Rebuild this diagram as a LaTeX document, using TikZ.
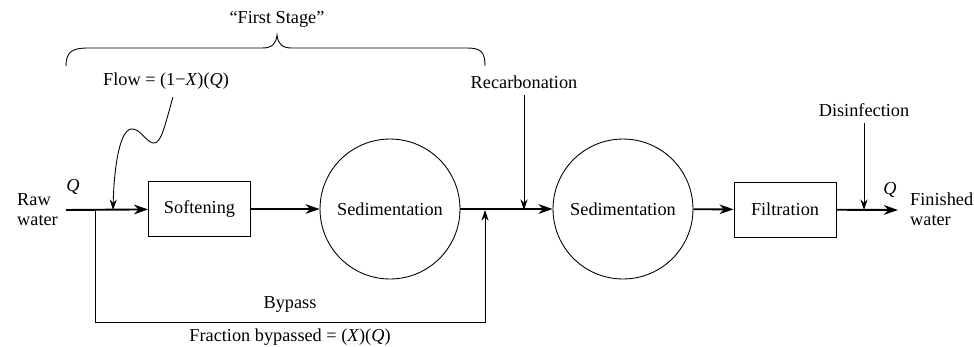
\documentclass[tikz,border=0pt]{standalone}
\usepackage{fontspec}
\setmainfont{Liberation Serif}
\usetikzlibrary{arrows.meta}

\begin{document}
\begin{tikzpicture}[x=0.02cm, y=-0.02cm, font=\fontsize{10.4}{11.4}\selectfont,
	unit/.style={draw, line width=0.5pt, minimum width=2.04cm, minimum height=1.1cm, inner sep=0pt},
	basin/.style={draw, line width=0.5pt, circle, minimum size=2.8cm, inner sep=0pt},
	flow/.style={line width=1.1pt, -{Stealth[length=8pt, width=5.5pt, inset=2.5pt]}},
	feed/.style={line width=0.5pt, -{Stealth[length=6pt, width=4pt, inset=2pt]}}]
	\useasboundingbox (0,0) rectangle (974,346);
	% process units
	\node[unit] (soft) at (199.5,209) {Softening};
	\node[basin] (sedA) at (390,209) {Sedimentation};
	\node[basin] (sedB) at (623,209) {Sedimentation};
	\node[unit] (filt) at (785,209.5) {Filtration};
	% points on the main line
	\coordinate (rawin) at (66,210);
	\coordinate (split) at (95,210);
	\coordinate (flowin) at (113,210);
	\coordinate (join) at (485,210);
	\coordinate (rcin) at (524,210);
	\coordinate (dsin) at (864,210);
	\coordinate (outc) at (898,210);
	\coordinate (bypL) at (95,322);
	% labels
	\node[align=left, anchor=west] (raw) at (11,210) {Raw\\water};
	\node[font=\fontsize{10.4}{11.4}\itshape] (qin) at (73,187) {Q};
	\node[font=\fontsize{10.4}{11.4}\itshape] (qout) at (890,190) {Q};
	\node[align=left, anchor=west] (fin) at (904,209) {Finished\\water};
	\node (recarb) at (524,82) {Recarbonation};
	\node (disinf) at (864,110) {Disinfection};
	\node (flowlbl) at (166,81) {Flow = (1−\textit{X})(\textit{Q})};
	\node (stage) at (277,19) {``First Stage''};
	\node (bypass) at (290,304) {Bypass};
	\node (frac) at (290,337) {Fraction bypassed = (\textit{X})(\textit{Q})};
	% main stream
	\draw[flow] (rawin) -- (soft);
	\draw[flow] (soft) -- (sedA);
	\draw[flow] (sedA) -- (sedB);
	\draw[flow] (sedB) -- (filt);
	\draw[flow] (filt) -- (outc);
	% bypass and chemical feeds
	\draw[feed] (split) -- (bypL) -| (join);
	\draw[feed] (recarb.south) -- (rcin);
	\draw[feed] (disinf.south) -- (dsin);
	\draw[feed] (173,97) .. controls (165,125) and (161,145) .. (153,143)
		.. controls (145,141) and (140,128) .. (131,129)
		.. controls (119,131) and (114,170) .. (flowin);
	% brace
	\draw[line width=0.5pt] (66,66) .. controls (66,52) and (72,48) .. (88,48) -- (262,48)
		.. controls (272,48) and (276,44) .. (277,35)
		.. controls (278,44) and (282,48) .. (292,48) -- (467,48)
		.. controls (481,48) and (485,52) .. (485,66);
\end{tikzpicture}
\end{document}
